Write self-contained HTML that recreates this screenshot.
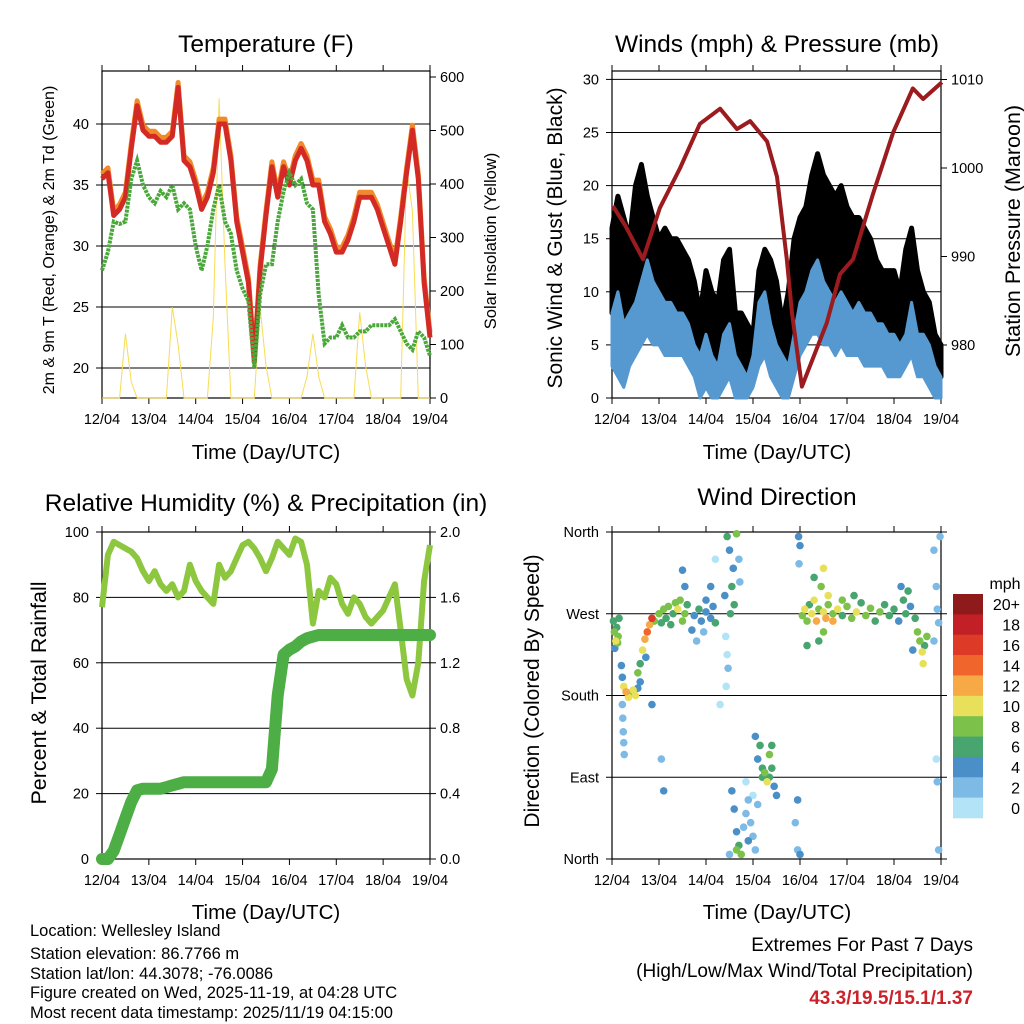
<!DOCTYPE html>
<html><head><meta charset="utf-8"><style>
html,body{margin:0;padding:0;background:#fff;}
svg{display:block;font-family:"Liberation Sans",Arial,sans-serif;}
</style></head><body>
<svg id="root" width="1024" height="1024" viewBox="0 0 1024 1024" xmlns="http://www.w3.org/2000/svg">
<rect x="0" y="0" width="1024" height="1024" fill="#fff"/>
<text x="266" y="52" font-size="24.5" text-anchor="middle">Temperature (F)</text>
<text x="777" y="52" font-size="24.5" text-anchor="middle">Winds (mph) &amp; Pressure (mb)</text>
<text x="266" y="511" font-size="24.5" text-anchor="middle">Relative Humidity (%) &amp; Precipitation (in)</text>
<text x="777" y="505" font-size="24.5" text-anchor="middle">Wind Direction</text>
<text x="266" y="459" font-size="20.5" text-anchor="middle">Time (Day/UTC)</text>
<text x="777" y="459" font-size="20.5" text-anchor="middle">Time (Day/UTC)</text>
<text x="266" y="919" font-size="20.5" text-anchor="middle">Time (Day/UTC)</text>
<text x="777" y="919" font-size="20.5" text-anchor="middle">Time (Day/UTC)</text>
<text transform="translate(54,240) rotate(-90)" font-size="16" text-anchor="middle">2m &amp; 9m T (Red, Orange) &amp; 2m Td (Green)</text>
<text transform="translate(496,241) rotate(-90)" font-size="16.5" text-anchor="middle">Solar Insolation (Yellow)</text>
<text transform="translate(562,238) rotate(-90)" font-size="21" text-anchor="middle">Sonic Wind &amp; Gust (Blue, Black)</text>
<text transform="translate(1020,231) rotate(-90)" font-size="21.5" text-anchor="middle">Station Pressure (Maroon)</text>
<text transform="translate(46,693) rotate(-90)" font-size="21.5" text-anchor="middle">Percent &amp; Total Rainfall</text>
<text transform="translate(539,691) rotate(-90)" font-size="21" text-anchor="middle">Direction (Colored By Speed)</text>
<g font-size="16.5">
<text x="30" y="936">Location: Wellesley Island</text>
<text x="30" y="959">Station elevation: 86.7766 m</text>
<text x="30" y="979">Station lat/lon: 44.3078; -76.0086</text>
<text x="30" y="998">Figure created on Wed, 2025-11-19, at 04:28 UTC</text>
<text x="30" y="1018">Most recent data timestamp: 2025/11/19 04:15:00</text>
</g>
<g font-size="19" text-anchor="end">
<text x="973" y="951">Extremes For Past 7 Days</text>
<text x="973" y="977">(High/Low/Max Wind/Total Precipitation)</text>
<text x="973" y="1004" fill="#cc2229" font-weight="bold">43.3/19.5/15.1/1.37</text>
</g>
<g id="layer"></g>
</svg>
<script>
// ---- data ----
const dayLabels = ["12/04","13/04","14/04","15/04","16/04","17/04","18/04","19/04"];
const tRed = [35.5,36,32.5,33,34,38,41.5,39.5, 39,39,38.5,38.5,39,43,37,36.5, 35,33,34,36,40,40,37,32, 29.5,27,20.5,28,32.5,36.5,34,36.5, 35,37,38,37,35,35,32,31, 29.5,29.5,30.5,32,34,34,34,33, 31.5,30,28.5,32,36,39.5,35.5,27, 22.5];
const tGreen = [28,29.5,32,31.8,32,35.5,37,35, 34,33.5,34.5,34,35,33,33.5,33, 30,28,30,33,35,32,31,28, 26.5,25.5,20,26,28.5,28.5,32,34.5, 36,35,35.5,33.5,33,26,22,22.5, 22.5,23.5,22.5,22.5,23,23,23.5,23.5, 23.5,23.5,24,23,22,21.5,23,22.5, 21];
const solar = [0,0,0,0,120,30,0,0, 0,0,0,0,170,100,0,0, 0,0,0,150,560,250,0,0, 0,0,0,170,60,0,0,0, 0,0,0,40,120,40,0,0, 0,0,0,0,160,60,0,0, 0,0,0,0,430,350,0,0, 0];
const windHigh = [8,10,7,8,9,11,13,11, 10,9,9,8,8,7,5,4, 6,4,3,6,7,4,3,2, 4,9,10,7,5,4,3,6, 9,10,12,13,11,10,9,10, 9,8,9,8,8,7,7,6, 6,5,6,9,6,6,5,3, 2];
const windLow = [3,2,1,3,4,5,6,5, 5,4,4,4,4,3,2,0, 1,0,0,1,2,0,0,0, 1,3,4,2,1,0,0,2, 4,5,6,6,5,5,4,5, 4,4,4,3,3,3,3,2, 2,2,3,4,2,2,1,0, 0];
const gustHigh = [16,19,17,15,20,22,19,17, 15,16,15,15,14,13,11,8, 12,10,9,13,14,8,8,7, 6,12,14,13,11,7,10,15, 17,18,21,23,21,20,19,20, 18,17,17,16,15,13,12,12, 12,10,14,16,12,10,9,6, 5];
const pressDay = [0.02,0.28,0.66,1.02,1.45,1.87,2.30,2.66,2.94,3.30,3.51,3.72,3.83,4.04,4.57,4.85,5.13,5.55,5.98,6.40,6.62,7.02];
const pressVal = [995.7,993.5,989.7,995.5,1000,1005,1006.7,1004.4,1005.3,1003,999,989.7,983.6,975.3,982.5,988,989.7,997,1004,1009,1007.8,1009.7];
const rh = [77,93,97,96,95,94,92,88, 85,88,84,82,84,80,82,90, 85,82,80,78,90,86,88,92, 96,97,95,92,88,92,97,95, 93,98,97,90,72,82,80,86, 84,78,75,80,78,74,72,74, 76,80,84,70,55,50,60,85, 96];
const precip = [0,0,0.05,0.15,0.25,0.35,0.42,0.43, 0.43,0.43,0.43,0.44,0.45,0.46,0.47,0.47, 0.47,0.47,0.47,0.47,0.47,0.47,0.47,0.47, 0.47,0.47,0.47,0.47,0.47,0.55,1.0,1.25, 1.28,1.30,1.33,1.35,1.36,1.37,1.37,1.37, 1.37,1.37,1.37,1.37,1.37,1.37,1.37,1.37, 1.37,1.37,1.37,1.37,1.37,1.37,1.37,1.37, 1.37];
const wdDay = [0.03,0.05,0.08,0.1,0.13,0.15,0.06,0.12, 0.25,0.3,0.35,0.4,0.45,0.5,0.55, 0.22,0.23,0.24,0.25,0.26,0.22,0.2,
 0.55,0.6,0.65,0.7,0.75,0.8,0.85,0.9,0.72,0.6,
 1.0,1.05,1.1,1.15,1.2,1.3,1.35,1.4,1.5,1.55,1.6,1.25,1.45,1.7,1.55,1.5,
 1.75,1.85,1.9,2.0,2.1,2.15,2.2,1.8,2.0,1.95,
 2.45,2.5,2.55,2.58,2.6,2.52,2.65,2.7,2.72,2.4,2.2,2.1,
 2.42,2.45,2.47,2.43,2.3,
 2.55,2.6,2.65,2.7,2.75,2.8,2.85,2.9,2.95,3.0,3.05,2.9,3.1,2.65,2.5,3.0,2.85,
 3.1,3.15,3.2,3.25,3.3,3.35,3.4,3.45,3.2,3.35,3.5,3.05,3.4,
 3.97,4.0,3.98,4.0,3.95,3.9,3.95,
 4.05,4.1,4.15,4.2,4.25,4.3,4.35,4.4,4.5,4.55,4.6,4.7,4.8,4.9,5.0,5.1,5.2,5.3,5.4,5.5,5.6,5.7,5.8,5.9,6.0,6.1,6.2,6.25,6.35,6.45,4.45,4.5,4.3,4.6,4.4,4.5,4.15,6.15,6.3,4.7,4.9,5.15,
 6.5,6.55,6.6,6.62,6.65,6.7,6.4,
 6.85,6.9,6.95,6.92,6.98,6.85,6.9,6.92,6.95, 0.85,1.05,1.1];
const wdDir = [262,250,240,255,245,265,232,238, 190,184,178,182,186,180,188, 170,155,140,128,115,200,213,
 205,215,230,242,250,258,265,262,222,195,
 270,260,275,265,278,270,282,275,262,270,280,258,285,252,300,318,
 268,275,262,272,265,278,260,240,285,250,
 355,340,300,320,280,270,358,330,305,290,330,300,
 245,225,210,190,170,
 75,55,30,15,5,35,50,65,40,25,10,20,60,10,5,70,85,
 110,125,100,95,85,90,100,80,90,115,70,135,125,
 355,345,325,5,10,40,65,
 268,275,262,280,270,285,262,275,272,265,280,270,275,268,278,265,272,282,268,276,262,272,280,268,275,262,285,270,278,265,300,320,310,290,240,250,235,300,295,262,285,290,
 250,240,228,215,235,245,230,
 340,300,260,275,355,240,110,85,10, 170,110,75];
const wdSpd = [6,8,10,6,8,6,4,8, 10,12,10,8,10,10,4, 2,2,2,2,2,4,4,
 8,6,10,12,14,12,16,8,4,4,
 8,6,8,6,8,6,8,10,8,8,6,6,8,4,4,4,
 4,6,4,4,4,4,6,2,4,2,
 6,4,6,4,6,6,8,2,2,4,0,4,
 0,0,2,0,0,
 4,4,4,6,8,2,2,2,2,2,2,4,2,8,2,0,0,
 4,6,6,8,10,6,6,4,6,8,4,4,6,
 4,4,2,4,2,2,4,
 8,10,8,6,10,10,12,8,10,12,8,8,10,6,8,8,10,6,8,8,6,8,6,6,6,4,6,6,4,6,8,10,6,10,6,8,6,4,6,12,8,6,
 8,8,10,10,6,8,4,
 2,2,2,2,2,2,0,2,2, 4,2,4];
const cbLabels = ["20+","18","16","14","12","10","8","6","4","2","0"];
const cbColors = ["#8f1a1c","#c21f27","#dd3a27","#ef652b","#f6a944","#e8e05a","#7bc14a","#48a56f","#4a8fc7","#7dbae6","#b3e3f7"];

// ---- helpers ----
const NS="http://www.w3.org/2000/svg";
const layer=document.getElementById("layer");
function el(tag,parent){const e=document.createElementNS(NS,tag);(parent||layer).appendChild(e);return e;}
function set(e,o){for(const k in o)e.setAttribute(k,o[k]);return e;}
function pts(xs,ys){return xs.map((x,i)=>x.toFixed(1)+","+ys[i].toFixed(1)).join(" ");}

const panels={
 temp:{x0:102,y0:71,w:328,h:327},
 wind:{x0:612,y0:71,w:329,h:327},
 rh:{x0:102,y0:532,w:328,h:327},
 dir:{x0:612,y0:532,w:329,h:327}
};
function xDay(p,d){return p.x0+d/7*p.w;}
const tY=v=>398-(v-17.54)*12.2, sY=v=>398-v*0.535;
const wY=v=>398-v*10.62, pY=v=>345-(v-980)*8.85;
const rY=v=>859-v*3.27, prY=v=>859-v*163.5;
const dY=v=>859-v*327/360;
const idxDay=i=>i/8;

function axes(p,key,leftTicks,leftFn,leftFmt,rightTicks,rightFn,rightFmt,grid){
 const g=el("g");
 
 
 if(grid){grid.forEach(v=>{const l=el("line",g);set(l,{x1:p.x0,x2:p.x0+p.w,y1:leftFn(v),y2:leftFn(v),stroke:"#000","stroke-width":1});});}
 const r=el("rect",g);set(r,{x:p.x0,y:p.y0,width:p.w,height:p.h,fill:"none",stroke:"#000","stroke-width":1.2});
 dayLabels.forEach((lab,i)=>{const x=xDay(p,i);
  const t1=el("line",g);set(t1,{x1:x,x2:x,y1:p.y0+p.h,y2:p.y0+p.h+6,stroke:"#000"});
  const t2=el("line",g);set(t2,{x1:x,x2:x,y1:p.y0,y2:p.y0-6,stroke:"#000"});
  const tx=el("text",g);set(tx,{x:x,y:p.y0+p.h+26,"font-size":14.5,"text-anchor":"middle"});tx.textContent=lab;
  
  
 });
 leftTicks.forEach(v=>{const y=leftFn(v);
  const t=el("line",g);set(t,{x1:p.x0-6,x2:p.x0,y1:y,y2:y,stroke:"#000"});
  const tx=el("text",g);set(tx,{x:p.x0-13,y:y+5,"font-size":14.5,"text-anchor":"end"});tx.textContent=leftFmt(v);
  
  
 });
 rightTicks.forEach(v=>{const y=rightFn(v);
  const t=el("line",g);set(t,{x1:p.x0+p.w,x2:p.x0+p.w+6,y1:y,y2:y,stroke:"#000"});
  if(rightFmt){const tx=el("text",g);set(tx,{x:p.x0+p.w+10,y:y+5,"font-size":14.5,"text-anchor":"start"});tx.textContent=rightFmt(v);
  
  }
 });
}

// ---- Temperature panel ----
(function(){const p=panels.temp;
 axes(p,'temp',[20,25,30,35,40],tY,v=>v,[0,100,200,300,400,500,600],sY,v=>v,[20,25,30,35,40]);
 const xs=solar.map((v,i)=>xDay(p,idxDay(i)));
 const s=el("polyline");set(s,{points:pts(xs,solar.map(sY)),fill:"none",stroke:"#f7dc55","stroke-width":1});
 
 
 const o=el("polyline");set(o,{points:pts(xs,tRed.map(v=>tY(v+0.4))),fill:"none",stroke:"#f08a2a","stroke-width":5,"stroke-linejoin":"round"});
 
 
 const r=el("polyline");set(r,{points:pts(xs,tRed.map(tY)),fill:"none",stroke:"#d42a25","stroke-width":5,"stroke-linejoin":"round"});
 
 
 const gr=el("polyline");set(gr,{points:pts(xs,tGreen.map(tY)),fill:"none",stroke:"#4aa83a","stroke-width":4,"stroke-dasharray":"3 1"});
 
 
})();

// ---- Wind panel ----
(function(){const p=panels.wind;
 axes(p,'wind',[0,5,10,15,20,25,30],wY,v=>v,[980,990,1000,1010],pY,v=>v,[5,10,15,20,25,30]);
 const xs=windHigh.map((v,i)=>xDay(p,idxDay(i)));
 const gb=el("polygon");set(gb,{points:pts(xs,gustHigh.map(wY))+" "+pts(xs.slice().reverse(),windHigh.slice().reverse().map(wY)),fill:"#000",stroke:"#000","stroke-width":5,"stroke-linejoin":"round"});
 
 
 const wb=el("polygon");set(wb,{points:pts(xs,windHigh.map(wY))+" "+pts(xs.slice().reverse(),windLow.slice().reverse().map(wY)),fill:"#5599d0",stroke:"#5599d0","stroke-width":3,"stroke-linejoin":"round"});
 
 
 const pl=el("polyline");set(pl,{points:pts(pressDay.map(d=>xDay(p,d)),pressVal.map(pY)),fill:"none",stroke:"#9b1b1f","stroke-width":4,"stroke-linejoin":"round"});
 
 
})();

// ---- RH panel ----
(function(){const p=panels.rh;
 axes(p,'rh',[0,20,40,60,80,100],rY,v=>v,[0,0.4,0.8,1.2,1.6,2.0],prY,v=>v.toFixed(1),[20,40,60,80]);
 const xs=rh.map((v,i)=>xDay(p,idxDay(i)));
 const l=el("polyline");set(l,{points:pts(xs,rh.map(rY)),fill:"none",stroke:"#8dc63f","stroke-width":6,"stroke-linejoin":"round"});
 
 
 const pr=el("polyline");set(pr,{points:pts(xs,precip.map(prY)),fill:"none",stroke:"#4cae45","stroke-width":12,"stroke-linejoin":"round","stroke-linecap":"round"});
 
 
})();

// ---- Direction panel ----
(function(){const p=panels.dir;
 const labs={0:"North",90:"East",180:"South",270:"West",360:"North"};
 axes(p,'dir',[0,90,180,270,360],dY,v=>labs[v],[0,90,180,270,360],dY,null,[90,180,270]);
 const order=wdSpd.map((s,i)=>i).sort((a,b)=>wdSpd[a]-wdSpd[b]);
 order.forEach(i=>{
  const c=el("circle");
  const k=Math.min(10,Math.floor(wdSpd[i]/2));
  set(c,{cx:xDay(p,wdDay[i]),cy:dY(wdDir[i]),r:3.8,fill:cbColors[10-k]});
  
  
 });
 const cb=el("g");
 
 
 const h=224/11;
 cbColors.forEach((col,i)=>{const r=el("rect",cb);set(r,{x:953,y:594+i*h,width:30,height:h+0.3,fill:col});
  const t=el("text",cb);set(t,{x:1020,y:594+i*h+h/2+6,"font-size":16,"text-anchor":"end"});t.textContent=cbLabels[i];
  
  });
 const u=el("text",cb);set(u,{x:1005,y:589,"font-size":16,"text-anchor":"middle"});u.textContent="mph";
 
 
})();
</script>
</body></html>
